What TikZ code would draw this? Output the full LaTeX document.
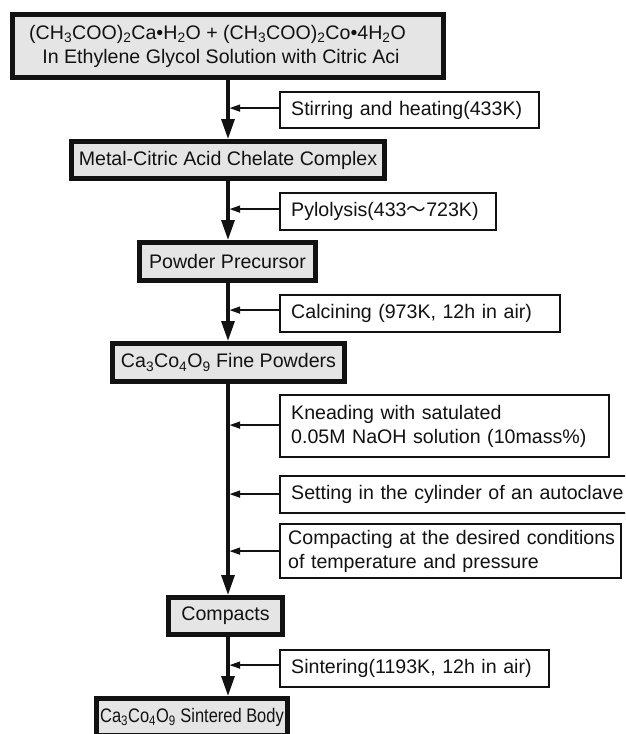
\documentclass[tikz,border=0pt]{standalone}
\usepackage{fontspec}
\setmainfont{Liberation Sans}
\newfontfamily\narrowfont[FakeStretch=0.84]{Liberation Sans}
\newfontfamily\cjk{Noto Sans CJK JP}
\usetikzlibrary{arrows.meta}
\definecolor{boxgray}{gray}{0.9}
\definecolor{ink}{gray}{0.07}
\newcommand{\sbs}[1]{\textsubscript{#1}}
\begin{document}
\begin{tikzpicture}[x=1pt,y=-1pt,
  every node/.style={font=\fontsize{19.6}{24}\selectfont, text=ink},
  mainbox/.style={draw=ink, line width=5pt, fill=boxgray, inner sep=0pt, align=center},
  sidebox/.style={draw=ink, line width=2.2pt, fill=white, anchor=north west, inner xsep=11pt, inner ysep=0pt, align=left},
  flow/.style={draw=ink, line width=3.2pt, -{Triangle[length=20pt,width=13pt]}},
  feed/.style={draw=ink, line width=2.5pt, -{Triangle[length=11pt,width=6.5pt]}, shorten >=1pt}]
\useasboundingbox (0,0) rectangle (625,734);
\clip (0,0) rectangle (625,734);
\coordinate (axis) at (228,0);
% main boxes
\node[mainbox, minimum width=431pt, minimum height=63pt] (b1) at (228,46)
  {\mbox{(CH\sbs{3}COO)\sbs{2}Ca•H\sbs{2}O + (CH\sbs{3}COO)\sbs{2}Co•4H\sbs{2}O}\hspace*{21pt}\\
   \mbox{In Ethylene Glycol Solution with Citric Aci}\hspace*{14pt}};
\node[mainbox, minimum width=313pt, minimum height=37pt] (b2) at (228,160) {Metal-Citric Acid Chelate Complex};
\node[mainbox, minimum width=176pt, minimum height=38pt] (b3) at (227.5,261.5) {Powder Precursor};
\node[mainbox, minimum width=232pt, minimum height=38pt] (b4) at (228.5,362.5) {Ca\sbs{3}Co\sbs{4}O\sbs{9} Fine Powders};
\node[mainbox, minimum width=114pt, minimum height=37pt] (b5) at (225.5,616) {Compacts};
\node[mainbox, minimum width=191pt, minimum height=37pt] (b6) at (192,717) {\narrowfont Ca\sbs{3}Co\sbs{4}O\sbs{9} Sintered Body};
% side boxes
\node[sidebox, text width=236.8pt, minimum height=35.8pt] (s1) at (279.1,91.1) {\mbox{Stirring and heating(433K)}};
\node[sidebox, text width=193.8pt, minimum height=36.8pt] (s2) at (279.1,192.1) {\mbox{Pylolysis(433{\cjk ～}723K)}};
\node[sidebox, text width=257.8pt, minimum height=36.8pt] (s3) at (279.1,294.1) {\mbox{Calcining (973K, 12h in air)}};
\node[sidebox, text width=306.8pt, minimum height=61.8pt] (s4) at (279.1,394.1) {\mbox{Kneading with satulated}\\\mbox{0.05M NaOH solution (10mass\%)}};
\node[sidebox, text width=335.8pt, minimum height=36.8pt] (s5) at (279.1,475.1) {\mbox{Setting in the cylinder of an autoclave}};
\node[sidebox, inner xsep=8pt, text width=324.8pt, minimum height=53.8pt] (s6) at (279.1,523.1) {\mbox{Compacting at the desired conditions}\\\mbox{of temperature and pressure}};
\node[sidebox, text width=246.8pt, minimum height=36.8pt] (s7) at (279.1,649.1) {\mbox{Sintering(1193K, 12h in air)}};
% main flow
\draw[flow] (b1.south) -- (b2.north);
\draw[flow] (axis |- b2.south) -- (axis |- b3.north);
\draw[flow] (axis |- b3.south) -- (axis |- b4.north);
\draw[flow] (axis |- b4.south) -- (axis |- b5.north);
\draw[flow] (axis |- b5.south) -- (axis |- b6.north);
% feeds
\foreach \s/\d in {s1/2, s2/2.5, s3/3.5, s4/1, s5/0.5, s6/0, s7/3.5}
  \draw[feed] ([yshift=\d pt]\s.west) -- ([yshift=\d pt]\s.west -| axis);
\end{tikzpicture}
\end{document}
